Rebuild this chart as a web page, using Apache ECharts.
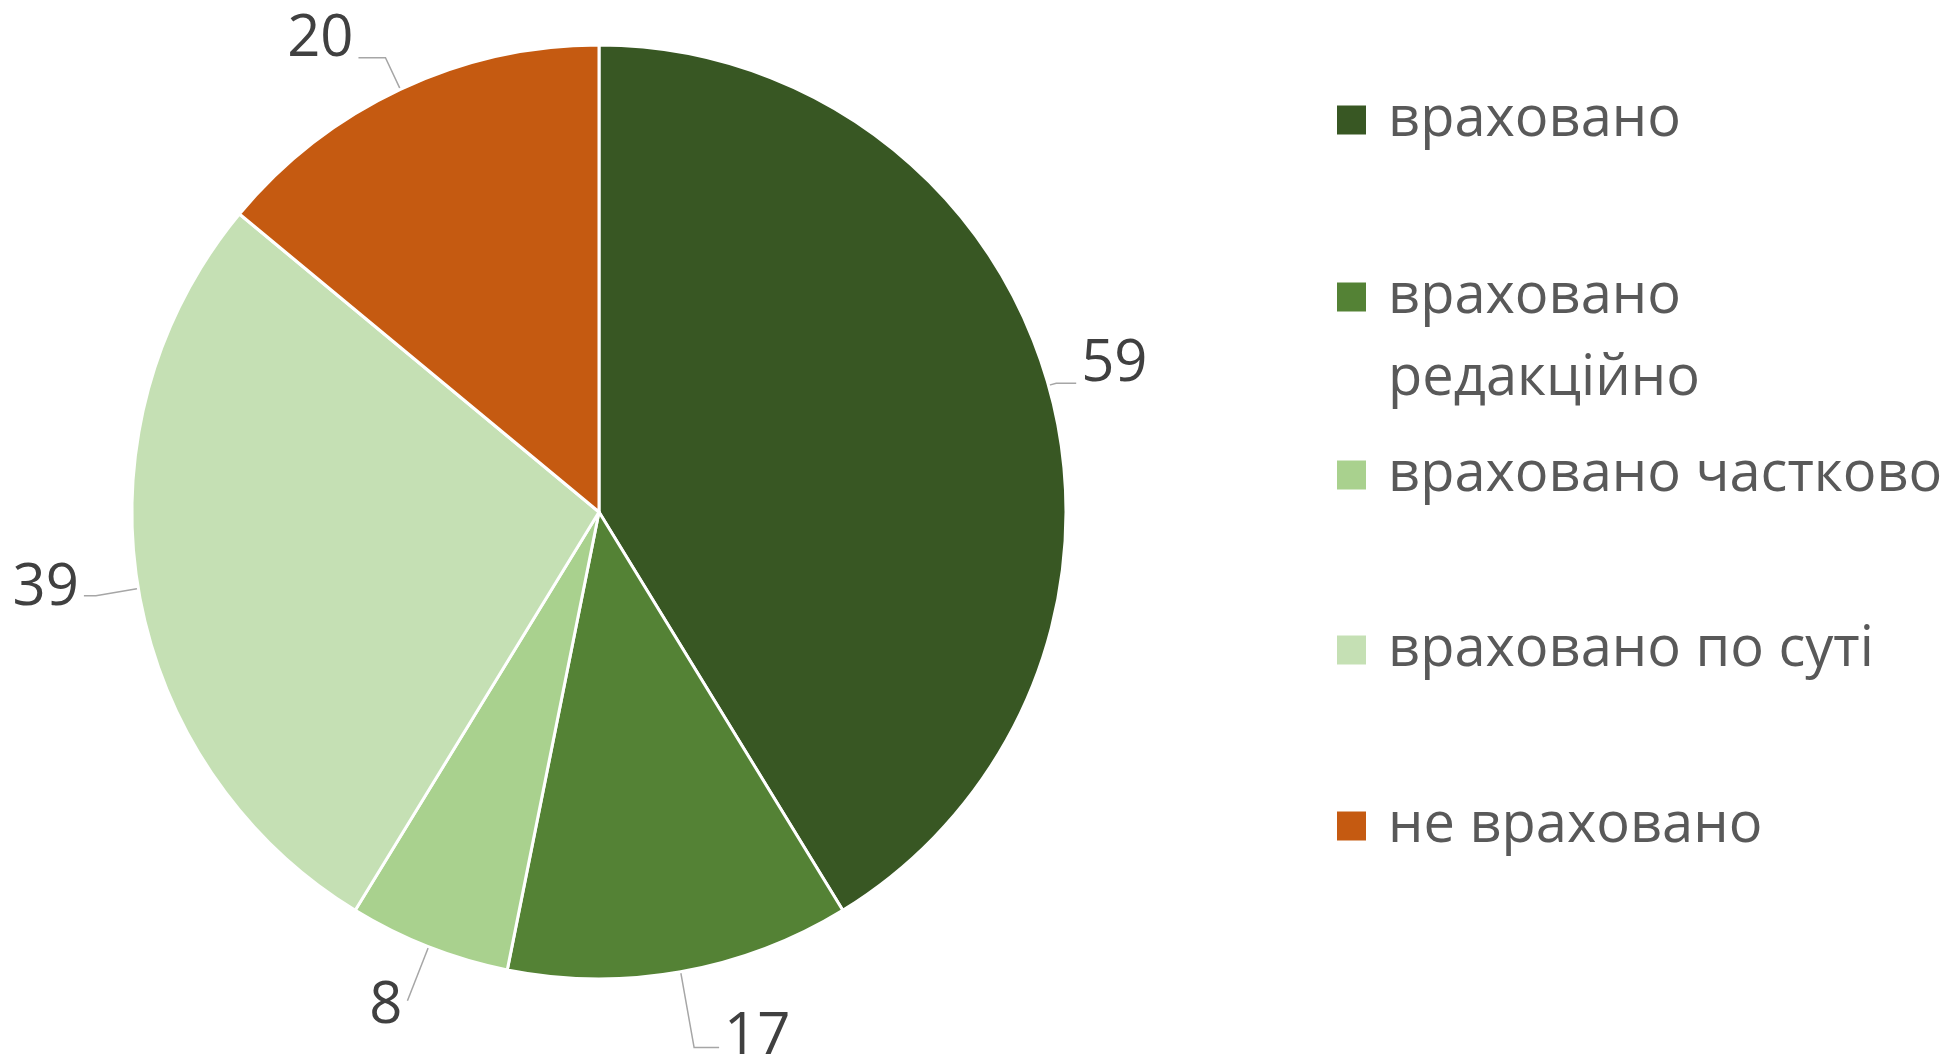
<!DOCTYPE html>
<html lang="uk">
<head>
<meta charset="UTF-8">
<title>Враховано</title>
<script src="https://cdn.jsdelivr.net/npm/echarts@6/dist/echarts.min.js"></script>
<style>
    html, body { margin: 0; padding: 0; background: #fff; }
    #chart { width: 1954px; height: 1055px; }
</style>
</head>
<body>
<div id="chart"></div>
<script>
    const categories = ['враховано', 'враховано редакційно', 'враховано частково', 'враховано по суті', 'не враховано'];
    const values = [59, 17, 8, 39, 20];
    const colors = ['#385723', '#548235', '#A9D18E', '#C5E0B4', '#C55A11'];

    // label line tweaks so labels sit roughly where Excel put them
    const lineLen = [8, 77, 58, 43, 35];
    const lineLen2 = [20, 25, 0, 12, 27];
    const labelLift = [19, 10, -6, 7, 18];   // + raises the number above its line end, - drops it

    // legend rows: marker centres
    const legendCentres = [120, 297, 475, 650, 826];
    const LH = 82;

    const chart = echarts.init(document.getElementById('chart'));

    const legends = categories.map((name, i) => {
        const twoLines = name === 'враховано редакційно';
        return {
            show: true,
            orient: 'vertical',
            left: 1335,
            top: twoLines ? legendCentres[i] - LH * 1.5 : legendCentres[i] - LH / 2,
            padding: 0,
            itemGap: 0,
            itemWidth: 31,
            itemHeight: 31,
            icon: 'rect',
            selectedMode: false,
            data: [name],
            // empty first line keeps the first word level with the marker
            formatter: n => twoLines ? '\n' + n.replace(' ', '\n') : n,
            textStyle: {
                fontFamily: 'Open Sans',
                fontSize: 56,
                color: '#595959',
                lineHeight: LH,
                padding: [0, 0, 0, 16]
            }
        };
    });

    function liftLabel(lift) {
        if (lift > 0) return { formatter: '{c}\n', lineHeight: lift * 2 };
        if (lift < 0) return { formatter: '\n{c}', lineHeight: -lift * 2 };
        return {};
    }

    chart.setOption({
        animation: false,
        color: colors,
        legend: legends,
        series: [{
            type: 'pie',
            center: [599, 512],
            radius: 467,
            startAngle: 90,
            clockwise: true,
            avoidLabelOverlap: false,
            itemStyle: { borderColor: '#fff', borderWidth: 3 },
            label: {
                show: true,
                position: 'outside',
                formatter: '{c}',
                fontFamily: 'Open Sans',
                fontSize: 58,
                color: '#404040',
                distanceToLabelLine: 5
            },
            labelLine: {
                show: true,
                lineStyle: { color: '#A6A6A6', width: 1.5 }
            },
            emphasis: { disabled: true },
            data: categories.map((name, i) => ({
                name: name,
                value: values[i],
                label: liftLabel(labelLift[i]),
                labelLine: { length: lineLen[i], length2: lineLen2[i] }
            }))
        }]
    });
</script>
</body>
</html>
